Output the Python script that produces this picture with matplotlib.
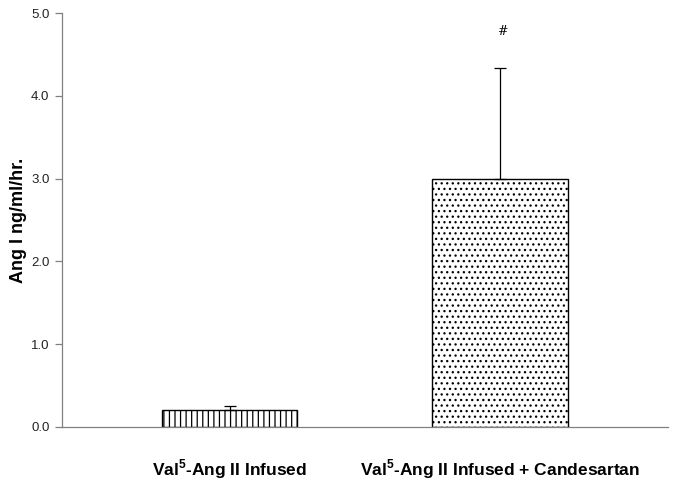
import matplotlib
matplotlib.use("Agg")

import matplotlib.pyplot as plt

plt.rcParams['font.family'] = ['Liberation Sans', 'DejaVu Sans']
plt.rcParams['mathtext.fontset'] = 'custom'
plt.rcParams['mathtext.rm'] = 'Liberation Sans'
plt.rcParams['mathtext.bf'] = 'Liberation Sans:bold'
plt.rcParams['hatch.linewidth'] = 0.9

groups = ["Val$^{\\mathbf{5}}$-Ang II Infused",
          "Val$^{\\mathbf{5}}$-Ang II Infused + Candesartan"]
means = [0.20, 3.00]
sem = [0.05, 1.34]
hatches = ['|||', '...']
marks = ['', '#']

fig = plt.figure(figsize=(6.78, 4.84), dpi=100)
ax = fig.add_axes([0.0914, 0.1178, 0.8936, 0.8552])

pos = list(range(len(groups)))
ax.bar(pos, means, width=0.5, color='white', edgecolor='black',
       hatch=hatches, linewidth=1.0, zorder=2)
ax.errorbar(pos, means, yerr=[[0] * len(sem), sem], fmt='none',
            ecolor='black', elinewidth=0.9, capsize=4, capthick=0.9, zorder=3)

for x, m, e, t in zip(pos, means, sem, marks):
    if t:
        ax.text(x + 0.01, 4.78, t, ha='center', va='center', fontsize=9,
                family='DejaVu Serif')

ax.set_xlim(-0.621, 1.621)
ax.set_ylim(0, 5)
ax.set_yticks([0, 1, 2, 3, 4, 5])
ax.set_yticklabels(["%.1f" % v for v in [0, 1, 2, 3, 4, 5]], fontsize=9.5,
                   color='#222222')
ax.set_xticks(pos)
ax.set_xticklabels(groups, fontsize=12.5, fontweight='bold')
ax.tick_params(axis='x', length=0, pad=22)
ax.tick_params(axis='y', direction='out', length=5, color='#808080', width=0.9,
               pad=4)
ax.set_ylabel("Ang I ng/ml/hr.", fontsize=13, fontweight='bold', labelpad=3)

for s in ['top', 'right']:
    ax.spines[s].set_visible(False)
for s in ['left', 'bottom']:
    ax.spines[s].set_color('#808080')
    ax.spines[s].set_linewidth(0.9)

fig.savefig("out.png", dpi=100)
